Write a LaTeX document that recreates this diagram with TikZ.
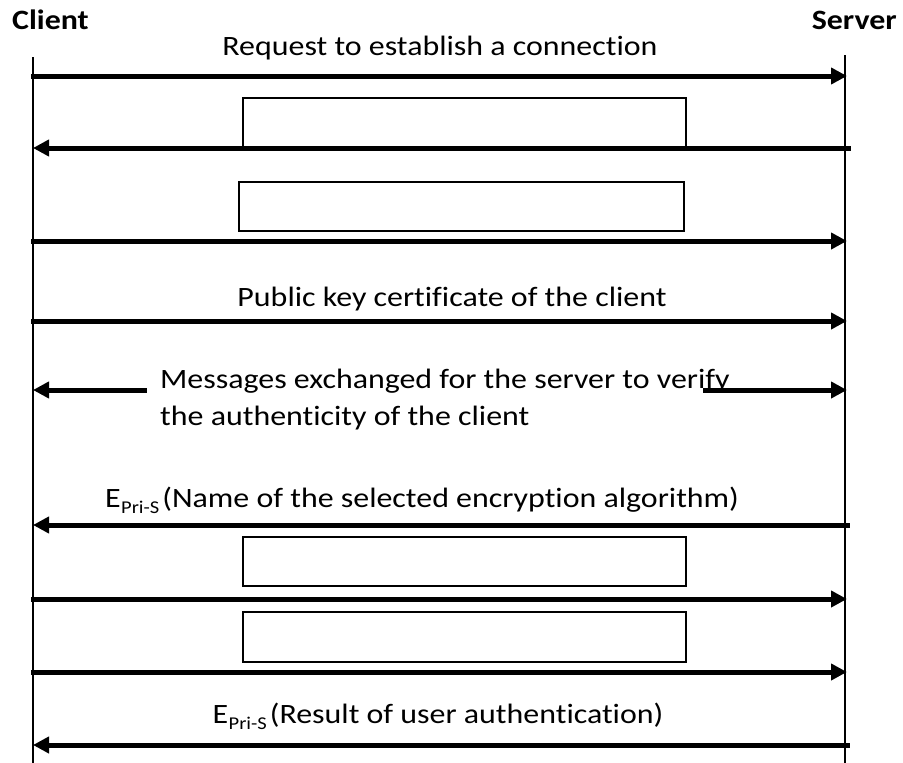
\documentclass[tikz,border=0pt]{standalone}
\usepackage{fontspec}
\setmainfont{Carlito}[FakeStretch=1.14,Ligatures=NoCommon]
\usetikzlibrary{arrows.meta}
\newcommand{\esub}{E\kern0.5pt\raisebox{-0.22em}{\fontsize{18}{20}\selectfont Pri-S}\kern3pt}
\begin{document}
\begin{tikzpicture}[x=1pt,y=-1pt,
  msg/.style={line width=5pt,-{Triangle[length=16pt,width=16pt]}},
  msgl/.style={line width=5pt,{Triangle[length=16pt,width=16pt]}-},
  life/.style={line width=1.5pt},
  blank/.style={draw,line width=1.5pt,rectangle,inner sep=0pt,anchor=north west},
  lbl/.style={font=\fontsize{28}{37}\selectfont,inner sep=0pt,anchor=base},
  actor/.style={font=\fontsize{28}{32}\selectfont\bfseries,inner sep=0pt}]
\useasboundingbox (0,0) rectangle (903,763);
% actors
\node[actor,anchor=base west] (client) at (12,29) {Client};
\node[actor,anchor=base east] (server) at (897,29) {Server};
% lifelines
\coordinate (ctop) at (33,57);
\coordinate (cbot) at (33,763);
\coordinate (stop) at (845,55);
\coordinate (sbot) at (845,763);
\draw[life] (ctop) -- (cbot);
\draw[life] (stop) -- (sbot);
% message 1
\coordinate (c1) at (31,76); \coordinate (s1) at (847,76);
\node[lbl] (l1) at (440,55) {Request to establish a connection};
\draw[msg] (c1) -- (s1);
% box 1 + message 2
\node[blank,minimum width=443pt,minimum height=51pt] (b1) at (242,97) {};
\coordinate (c2) at (33,148); \coordinate (s2) at (851,148);
\draw[msgl] (c2) -- (s2);
% box 2 + message 3
\node[blank,minimum width=445pt,minimum height=49pt] (b2) at (238,181) {};
\coordinate (c3) at (31,241); \coordinate (s3) at (847,241);
\draw[msg] (c3) -- (s3);
% message 4
\node[lbl] (l4) at (452,306) {Public key certificate of the client};
\coordinate (c4) at (31,321); \coordinate (s4) at (847,321);
\draw[msg] (c4) -- (s4);
% message 5
\node[lbl,anchor=base west] (l5a) at (160,388) {Messages exchanged for the server to verify};
\node[lbl,anchor=base west] (l5b) at (160,425) {the authenticity of the client};
\coordinate (c5) at (33,390); \coordinate (m5l) at (147,390);
\coordinate (m5r) at (703,390); \coordinate (s5) at (847,390);
\draw[msgl] (c5) -- (m5l);
\draw[msg] (m5r) -- (s5);
% message 6
\node[lbl] (l6) at (422,507) {\esub(Name of the selected encryption algorithm)};
\coordinate (c6) at (33,525); \coordinate (s6) at (850,525);
\draw[msgl] (c6) -- (s6);
% box 3 + message 7
\node[blank,minimum width=443pt,minimum height=49pt] (b3) at (242,536) {};
\coordinate (c7) at (31,599); \coordinate (s7) at (847,599);
\draw[msg] (c7) -- (s7);
% box 4 + message 8
\node[blank,minimum width=443pt,minimum height=50pt] (b4) at (242,611) {};
\coordinate (c8) at (31,672); \coordinate (s8) at (847,672);
\draw[msg] (c8) -- (s8);
% message 9
\node[lbl] (l9) at (438,723) {\esub(Result of user authentication)};
\coordinate (c9) at (33,745); \coordinate (s9) at (850,745);
\draw[msgl] (c9) -- (s9);
\end{tikzpicture}
\end{document}
